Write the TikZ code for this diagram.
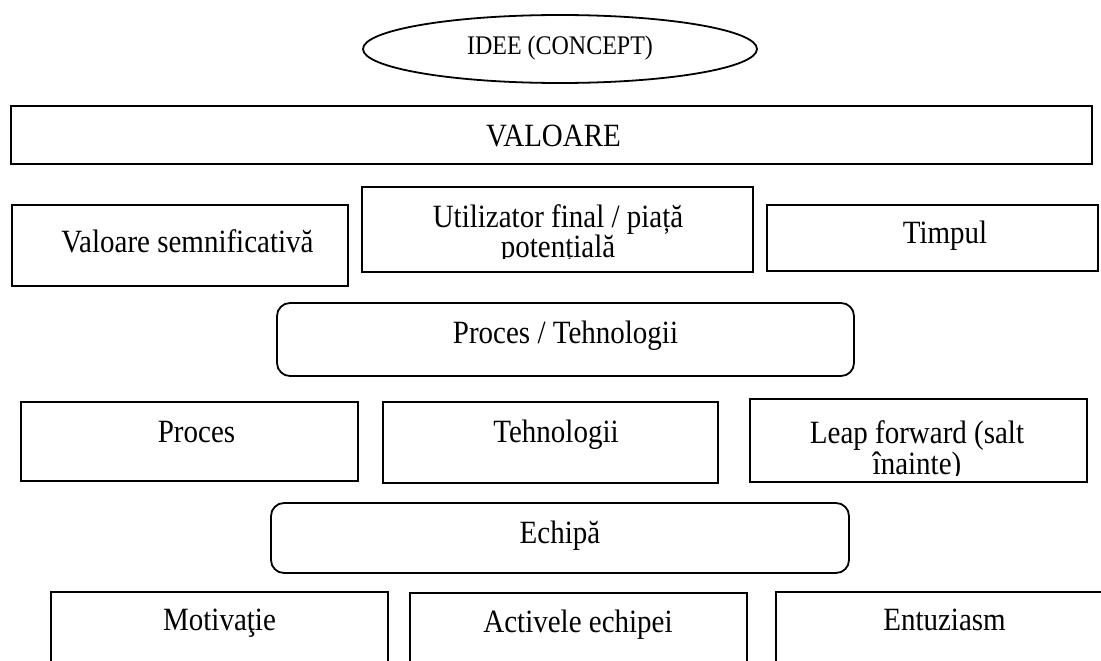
\documentclass[tikz,border=0pt]{standalone}
\usepackage{graphicx}
\usepackage{fontspec}
\setmainfont{Liberation Serif}
\usetikzlibrary{shapes.geometric}
\newcommand{\vstretch}[1]{\scalebox{1}[1.12]{#1}}
\begin{document}
\begin{tikzpicture}[x=1pt,y=-1pt,
  box/.style={draw=black, line width=1.8pt, rectangle, inner sep=0pt},
  rbox/.style={box, rounded corners=13pt},
  oval/.style={draw=black, line width=1.8pt, ellipse, inner sep=0pt},
  txt/.style={inner sep=0pt, anchor=base, font=\fontsize{29}{31}\selectfont},
  stxt/.style={txt, font=\fontsize{24}{26}\selectfont}]
\clip (0,0) rectangle (1101,661);
\fill[white] (0,0) rectangle (1101,661);
% concept
\node[oval, minimum width=394pt, minimum height=68pt] (idee) at (560,49) {};
\node[stxt] (tidee) at (560,55) {\vstretch{IDEE (CONCEPT)}};
% value
\node[box, minimum width=1081pt, minimum height=58pt] (valoare) at (551.5,135) {};
\node[txt] (tvaloare) at (553.5,146) {\vstretch{VALOARE}};
% row 1
\node[box, minimum width=336pt, minimum height=81pt] (semn) at (180,245.5) {};
\node[txt] (tsemn) at (187.5,252) {\vstretch{Valoare semnificativă}};
\node[box, minimum width=391pt, minimum height=85pt] (util) at (557.5,229.5) {};
\begin{scope}
\clip (362,187) rectangle (753,258.5);
\node[txt] (tutil) at (558,227) {\vstretch{Utilizator final / piață}};
\node[txt] (tutilb) at (558,257.5) {\vstretch{potențială}};
\end{scope}
\node[box, minimum width=331pt, minimum height=66pt] (timp) at (932.5,238) {};
\node[txt] (ttimp) at (945,243) {\vstretch{Timpul}};
% process / technology
\node[rbox, minimum width=577pt, minimum height=73pt] (proctehn) at (565.5,339.5) {};
\node[txt] (tproctehn) at (565.5,343) {\vstretch{Proces / Tehnologii}};
% row 2
\node[box, minimum width=337pt, minimum height=79pt] (proc) at (189.5,441.5) {};
\node[txt] (tproc) at (196.5,442) {\vstretch{Proces}};
\node[box, minimum width=335pt, minimum height=81pt] (tehn) at (550.5,442.5) {};
\node[txt] (ttehn) at (556,442) {\vstretch{Tehnologii}};
\node[box, minimum width=337pt, minimum height=83pt] (leap) at (918.5,440.5) {};
\begin{scope}
\clip (750,399) rectangle (1087,475.5);
\node[txt] (tleap) at (917,443) {\vstretch{Leap forward (salt}};
\node[txt] (tleapb) at (917,474) {\vstretch{înainte)}};
\end{scope}
% team
\node[rbox, minimum width=578pt, minimum height=70pt] (echipa) at (560,538) {};
\node[txt] (techipa) at (560,543) {\vstretch{Echipă}};
% row 3
\node[box, minimum width=337pt, minimum height=108pt] (motiv) at (219.5,646) {};
\node[txt] (tmotiv) at (219.5,630) {\vstretch{Motivaţie}};
\node[box, minimum width=337pt, minimum height=107pt] (activ) at (578.5,646.5) {};
\node[txt] (tactiv) at (578,632) {\vstretch{Activele echipei}};
\node[box, minimum width=344pt, minimum height=108pt] (entuz) at (948,646) {};
\node[txt] (tentuz) at (944.5,630) {\vstretch{Entuziasm}};
\end{tikzpicture}
\end{document}
